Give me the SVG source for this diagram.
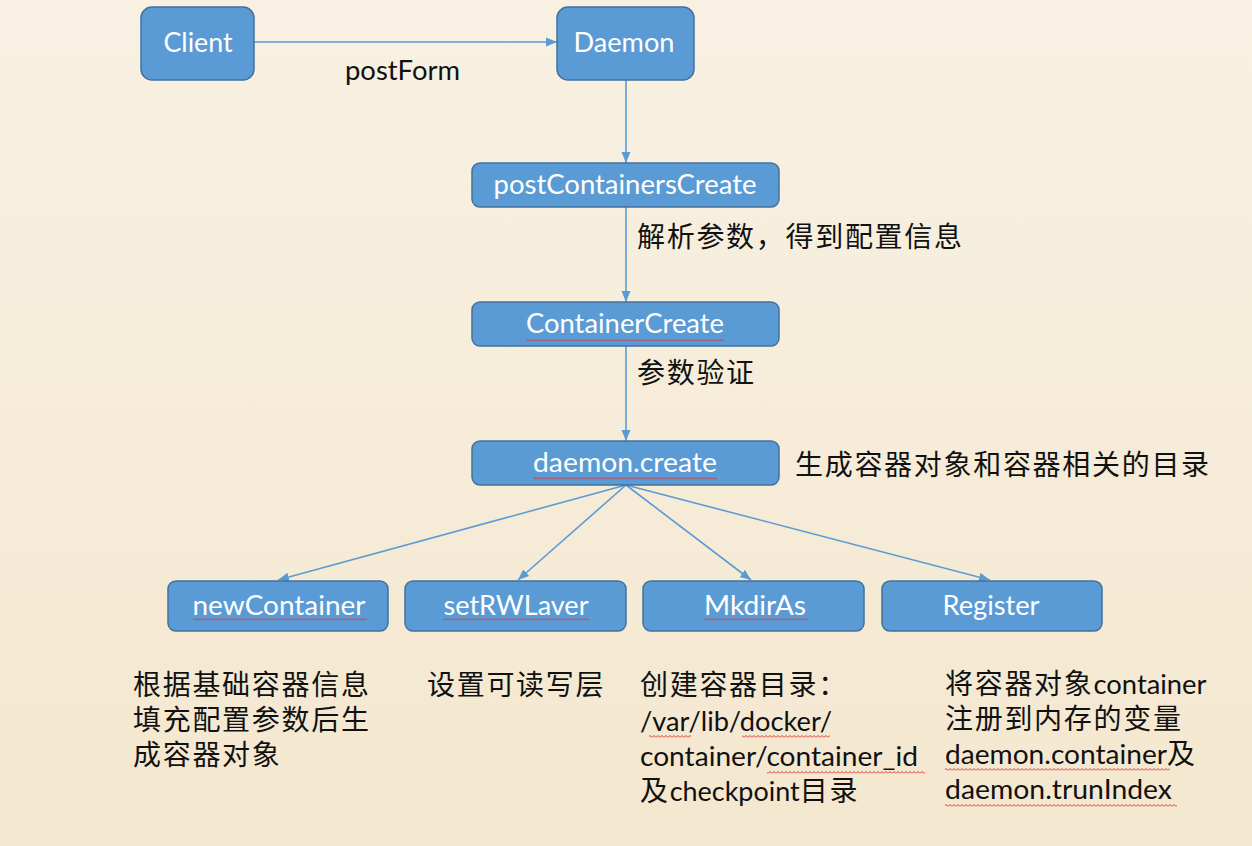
<svg xmlns="http://www.w3.org/2000/svg" width="1252" height="846" viewBox="0 0 1252 846">
<defs>
<linearGradient id="bg" x1="0" y1="0" x2="0" y2="1">
<stop offset="0" stop-color="#f8f1e3"/>
<stop offset="1" stop-color="#f4e7cf"/>
</linearGradient>
<marker id="arr" markerUnits="userSpaceOnUse" markerWidth="12" markerHeight="10" refX="11" refY="5" orient="auto">
<path d="M0,0.5 L11,5 L0,9.5 Z" fill="#5b9bd5"/>
</marker>
<pattern id="squig" patternUnits="userSpaceOnUse" width="4" height="3">
<path d="M0,2.5 L2,0.5 L4,2.5" fill="none" stroke="#e0302e" stroke-width="1"/>
</pattern>
</defs>
<style>
.box{fill:#5b9bd5;stroke:#41719c;stroke-width:1.5}
.lbl{font-family:Lato,"Liberation Sans",sans-serif;font-size:26px;fill:#ffffff;text-anchor:middle}
.conn{stroke:#5b9bd5;stroke-width:1.6;fill:none;marker-end:url(#arr)}
.cn{font-family:"Noto Sans CJK SC",sans-serif;font-size:28px;letter-spacing:1.7px;fill:#111111}
.lt{font-family:Lato,"Liberation Sans","Noto Sans CJK SC",sans-serif;font-size:27px;fill:#111111}
.sq{fill:url(#squig)}
</style>
<rect x="0" y="0" width="1252" height="846" fill="url(#bg)"/>

<g id="connectors">
<line class="conn" x1="254" y1="42" x2="557" y2="42"/>
<line class="conn" x1="626" y1="80" x2="626" y2="163"/>
<line class="conn" x1="626" y1="207" x2="626" y2="302"/>
<line class="conn" x1="626" y1="346" x2="626" y2="441"/>
<line class="conn" x1="626" y1="485" x2="278" y2="580"/>
<line class="conn" x1="626" y1="485" x2="518" y2="580"/>
<line class="conn" x1="626" y1="485" x2="751" y2="580"/>
<line class="conn" x1="626" y1="485" x2="990" y2="580"/>
</g>

<g id="client">
<rect class="box" x="141" y="7" width="113" height="73" rx="11"/>
<text class="lbl" x="198" y="52" textLength="69" lengthAdjust="spacingAndGlyphs">Client</text>
</g>
<g id="daemon">
<rect class="box" x="557" y="7" width="137" height="73" rx="11"/>
<text class="lbl" x="624" y="52" textLength="101" lengthAdjust="spacingAndGlyphs">Daemon</text>
</g>
<g id="postContainersCreate">
<rect class="box" x="472" y="163" width="307" height="44" rx="8"/>
<text class="lbl" x="625" y="194" textLength="263" lengthAdjust="spacingAndGlyphs">postContainersCreate</text>
</g>
<g id="containerCreate">
<rect class="box" x="472" y="302" width="307" height="44" rx="8"/>
<text class="lbl" x="625" y="333" textLength="198" lengthAdjust="spacingAndGlyphs">ContainerCreate</text>
<rect class="sq" x="526" y="339" width="198" height="3"/>
</g>
<g id="daemonCreate">
<rect class="box" x="472" y="441" width="307" height="44" rx="8"/>
<text class="lbl" x="625" y="472" textLength="184" lengthAdjust="spacingAndGlyphs">daemon.create</text>
<rect class="sq" x="533" y="477" width="184" height="3"/>
</g>
<g id="newContainer">
<rect class="box" x="168" y="581" width="220" height="50" rx="8"/>
<text class="lbl" x="279" y="615" textLength="173" lengthAdjust="spacingAndGlyphs">newContainer</text>
<rect class="sq" x="193" y="618" width="174" height="3"/>
</g>
<g id="setRWLaver">
<rect class="box" x="405" y="581" width="221" height="50" rx="8"/>
<text class="lbl" x="516" y="615" textLength="145" lengthAdjust="spacingAndGlyphs">setRWLaver</text>
<rect class="sq" x="443" y="618" width="146" height="3"/>
</g>
<g id="mkdirAs">
<rect class="box" x="643" y="581" width="221" height="50" rx="8"/>
<text class="lbl" x="755" y="615" textLength="102" lengthAdjust="spacingAndGlyphs">MkdirAs</text>
<rect class="sq" x="704" y="618" width="104" height="3"/>
</g>
<g id="register">
<rect class="box" x="882" y="581" width="220" height="50" rx="8"/>
<text class="lbl" x="991" y="615" textLength="97" lengthAdjust="spacingAndGlyphs">Register</text>
</g>

<g id="labels">
<text class="lt" x="345" y="80" font-size="25" textLength="115" lengthAdjust="spacingAndGlyphs">postForm</text>
<text class="cn" x="637" y="247">解析参数，得到配置信息</text>
<text class="cn" x="637" y="383">参数验证</text>
<text class="cn" x="795" y="475">生成容器对象和容器相关的目录</text>

<text class="cn" x="133" y="695">根据基础容器信息</text>
<text class="cn" x="133" y="730">填充配置参数后生</text>
<text class="cn" x="133" y="765">成容器对象</text>

<text class="cn" x="427" y="695">设置可读写层</text>

<text class="cn" x="640" y="695">创建容器目录：</text>
<text class="lt" x="640" y="731" textLength="192" lengthAdjust="spacingAndGlyphs">/var/lib/docker/</text>
<text class="lt" x="640" y="766" textLength="278" lengthAdjust="spacingAndGlyphs">container/container_id</text>
<text x="640" y="801"><tspan class="cn">及</tspan><tspan class="lt" textLength="130" lengthAdjust="spacingAndGlyphs">checkpoint</tspan><tspan class="cn">目录</tspan></text>
<rect class="sq" x="649" y="735" width="42" height="3"/>
<rect class="sq" x="742" y="735" width="88" height="3"/>
<rect class="sq" x="767" y="771" width="158" height="3"/>

<text x="945" y="694"><tspan class="cn">将容器对象</tspan><tspan class="lt" textLength="113" lengthAdjust="spacingAndGlyphs">container</tspan></text>
<text class="cn" x="945" y="729">注册到内存的变量</text>
<text x="945" y="764"><tspan class="lt" textLength="222" lengthAdjust="spacingAndGlyphs">daemon.container</tspan><tspan class="cn">及</tspan></text>
<text class="lt" x="945" y="799" textLength="227" lengthAdjust="spacingAndGlyphs">daemon.trunIndex</text>
<rect class="sq" x="945" y="768" width="225" height="3"/>
<rect class="sq" x="945" y="804" width="232" height="3"/>
</g>
</svg>
